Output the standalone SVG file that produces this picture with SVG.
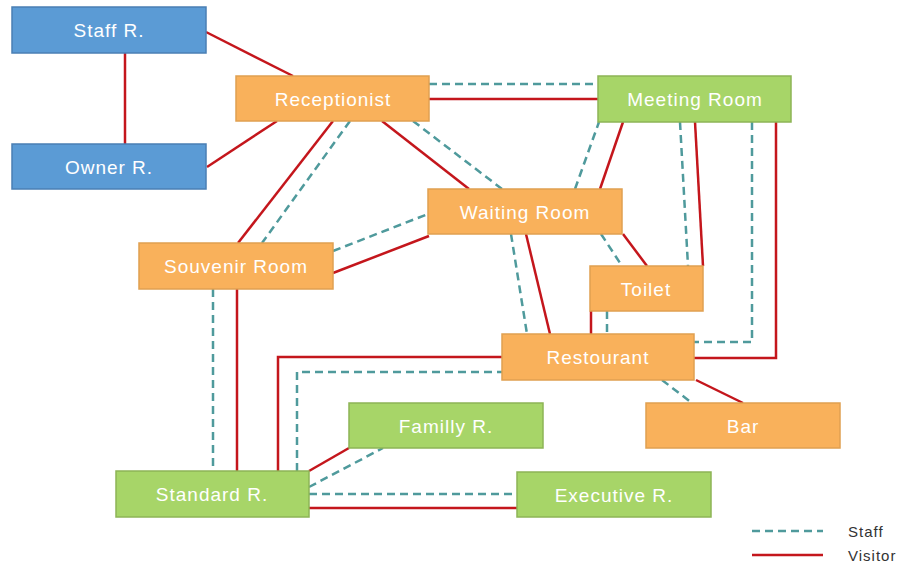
<svg xmlns="http://www.w3.org/2000/svg" width="901" height="565" viewBox="0 0 901 565">
<style>
.blue{fill:#5b9bd5;stroke:#4a7fb4;stroke-width:1.5}
.orange{fill:#f9b15b;stroke:#e0a050;stroke-width:1.5}
.green{fill:#a7d568;stroke:#8db456;stroke-width:1.5}
.lbl{font-family:"Liberation Sans",Arial,sans-serif;font-size:19px;letter-spacing:1px;fill:#ffffff;text-anchor:middle}
.v{stroke:#c4161c;stroke-width:2.5;fill:none}
.s{stroke:#4f9a9c;stroke-width:2.5;stroke-dasharray:8,5;fill:none}
.leg{font-family:"Liberation Sans",Arial,sans-serif;font-size:15px;fill:#333333;letter-spacing:1px}
</style>
<rect width="901" height="565" fill="#ffffff"/>
<g id="connectors">
<line class="v" x1="206" y1="32" x2="293" y2="76"/>
<line class="v" x1="125" y1="53" x2="125" y2="144"/>
<line class="v" x1="207" y1="167" x2="277" y2="121"/>
<line class="s" x1="429" y1="84" x2="598" y2="84"/>
<line class="v" x1="429" y1="99" x2="598" y2="99"/>
<line class="v" x1="333" y1="121" x2="238" y2="243"/>
<line class="s" x1="350" y1="121" x2="262" y2="243"/>
<line class="v" x1="382" y1="121" x2="469" y2="189"/>
<line class="s" x1="413" y1="121" x2="502" y2="189"/>
<line class="v" x1="333" y1="273" x2="429" y2="236"/>
<line class="s" x1="333" y1="251" x2="428" y2="214"/>
<line class="v" x1="600" y1="189" x2="623" y2="122"/>
<line class="s" x1="575" y1="189" x2="599" y2="122"/>
<line class="s" x1="680" y1="122" x2="688" y2="266"/>
<line class="v" x1="695" y1="122" x2="703" y2="266"/>
<polyline class="s" points="752,122 752,342 694,342"/>
<polyline class="v" points="776,122 776,358 694,358"/>
<line class="v" x1="623" y1="234" x2="647" y2="266"/>
<line class="s" x1="601" y1="234" x2="622" y2="266"/>
<line class="v" x1="526" y1="234" x2="550" y2="334"/>
<line class="s" x1="511" y1="234" x2="527" y2="334"/>
<line class="v" x1="591" y1="311" x2="591" y2="334"/>
<line class="s" x1="607" y1="311" x2="607" y2="334"/>
<line class="v" x1="696" y1="380" x2="743" y2="403"/>
<line class="s" x1="662" y1="380" x2="692" y2="403"/>
<line class="s" x1="213" y1="289" x2="213" y2="471"/>
<line class="v" x1="237" y1="289" x2="237" y2="471"/>
<polyline class="v" points="278,471 278,357 502,357"/>
<polyline class="s" points="297,471 297,372 502,372"/>
<line class="v" x1="309" y1="471" x2="349" y2="448"/>
<line class="s" x1="309" y1="487" x2="383" y2="448"/>
<line class="s" x1="309" y1="494" x2="517" y2="494"/>
<line class="v" x1="309" y1="508" x2="517" y2="508"/>
</g>
<g id="staff">
<rect class="blue" x="12" y="7" width="194" height="46"/>
<text class="lbl" x="109" y="37">Staff R.</text>
</g>
<g id="owner">
<rect class="blue" x="12" y="144" width="194" height="45"/>
<text class="lbl" x="109" y="174">Owner R.</text>
</g>
<g id="receptionist">
<rect class="orange" x="236" y="76" width="193" height="45"/>
<text class="lbl" x="333" y="106">Receptionist</text>
</g>
<g id="meeting">
<rect class="green" x="598" y="76" width="193" height="46"/>
<text class="lbl" x="695" y="106">Meeting Room</text>
</g>
<g id="waiting">
<rect class="orange" x="428" y="189" width="194" height="45"/>
<text class="lbl" x="525" y="219">Waiting Room</text>
</g>
<g id="souvenir">
<rect class="orange" x="139" y="243" width="194" height="46"/>
<text class="lbl" x="236" y="273">Souvenir Room</text>
</g>
<g id="toilet">
<rect class="orange" x="590" y="266" width="113" height="45"/>
<text class="lbl" x="646" y="296">Toilet</text>
</g>
<g id="restourant">
<rect class="orange" x="502" y="334" width="192" height="46"/>
<text class="lbl" x="598" y="364">Restourant</text>
</g>
<g id="bar">
<rect class="orange" x="646" y="403" width="194" height="45"/>
<text class="lbl" x="743" y="433">Bar</text>
</g>
<g id="familly">
<rect class="green" x="349" y="403" width="194" height="45"/>
<text class="lbl" x="446" y="433">Familly R.</text>
</g>
<g id="standard">
<rect class="green" x="116" y="471" width="193" height="46"/>
<text class="lbl" x="212" y="501">Standard R.</text>
</g>
<g id="executive">
<rect class="green" x="517" y="472" width="194" height="45"/>
<text class="lbl" x="614" y="502">Executive R.</text>
</g>
<g id="legend">
<line class="s" x1="752" y1="531" x2="823" y2="531"/>
<line class="v" x1="752" y1="555" x2="823" y2="555"/>
<text class="leg" x="848" y="537">Staff</text>
<text class="leg" x="848" y="561">Visitor</text>
</g>
</svg>
